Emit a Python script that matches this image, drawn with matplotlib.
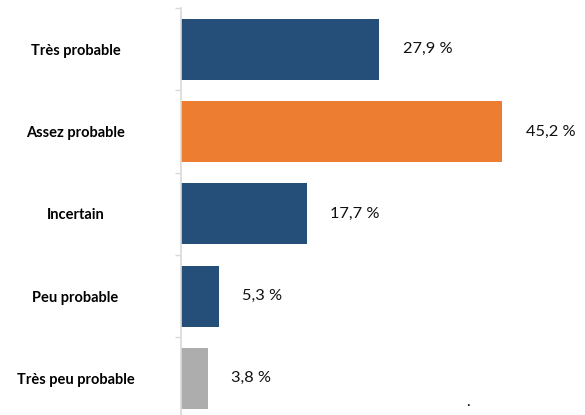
import matplotlib.pyplot as plt

# Probabilité perçue (% des répondants)
categories = ['Très probable', 'Assez probable', 'Incertain', 'Peu probable', 'Très peu probable']
values = [27.9, 45.2, 17.7, 5.3, 3.8]
colors = ['#254E78', '#ED7D31', '#254E78', '#254E78', '#ADADAD']

plt.rcParams['font.family'] = ['Lato', 'DejaVu Sans']

fig = plt.figure(figsize=(5.85, 4.15), dpi=100)
ax = fig.add_axes([181 / 585, 0.0, 398 / 585, 407 / 415])

pos = list(range(len(categories)))
ax.barh(pos, values, height=0.74, color=colors, edgecolor='none')

ax.set_xlim(0, 56)
ax.set_ylim(4.445, -0.5)

# étiquettes de valeur
for p, v in zip(pos, values):
    ax.text(v + 3.3, p, f'{v:.1f} %'.replace('.', ','), va='center', ha='left',
            fontsize=11.8, color='#111111')

# catégories centrées à gauche de l'axe
ax.set_yticks(pos)
ax.set_yticklabels(categories, fontsize=10.5, fontweight='bold', ha='center')
ax.tick_params(axis='y', which='major', length=0, pad=76)
ax.set_yticks([-0.5, 0.5, 1.5, 2.5, 3.5], minor=True)
ax.tick_params(axis='y', which='minor', length=4, color='#D9D9D9', width=1)

ax.set_xticks([])
for s in ['top', 'right', 'bottom']:
    ax.spines[s].set_visible(False)
ax.spines['left'].set_color('#D9D9D9')
ax.spines['left'].set_linewidth(1.2)

fig.text(468 / 585, 1 - 406 / 415, '.', fontsize=11, ha='center', va='baseline')

fig.savefig('out.png', dpi=100)
